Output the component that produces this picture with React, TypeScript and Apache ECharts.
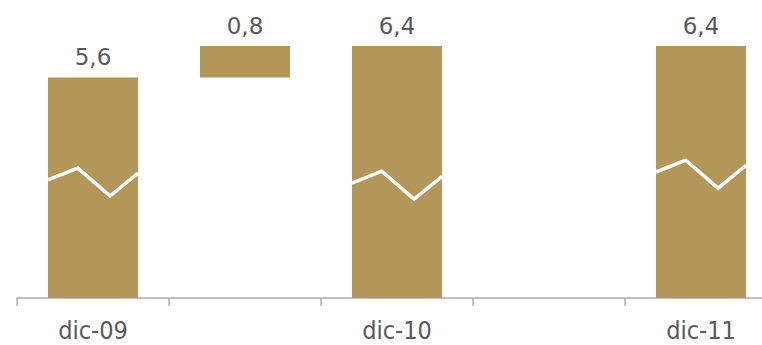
import React, { useEffect, useRef } from "react";
import * as echarts from "echarts";

// Year-end figures with the change between dic-09 and dic-10 shown as a floating step
const categories = ["dic-09", "", "dic-10", "", "dic-11"];
const baseValues = [0, 5.6, 0, 0, 0];
const barValues: (number | string)[] = [5.6, 0.8, 6.4, "-", 6.4];

// Axis-break marks drawn across the full bars: [category index, level]
const breakMarks = [
  [0, 3.0],
  [2, 2.92],
  [4, 3.2],
];

const BAR_COLOR = "#B39659";
const TEXT_COLOR = "#595959";
const BAR_W = 90;

export default function App() {
  const ref = useRef<HTMLDivElement>(null);

  useEffect(() => {
    if (!ref.current) return;
    const chart = echarts.init(ref.current, undefined, { renderer: "svg" });

    // zigzag shape: x fractions across the bar and value offsets from the level
    const zigX = [0, 0.33, 0.69, 1];
    const zigY = [0, 0.3, -0.41, 0.17];

    chart.setOption({
      animation: false,
      grid: { left: 17, right: -15, top: 46, bottom: 47, containLabel: false, outerBoundsMode: "none" },
      xAxis: {
        type: "category",
        data: categories,
        axisLine: { lineStyle: { color: "#ADADAD", width: 1.5 } },
        axisTick: { show: true, interval: 0, length: 8, lineStyle: { color: "#ADADAD", width: 1.5 } },
        axisLabel: {
          interval: 0,
          color: TEXT_COLOR,
          fontFamily: "DejaVu Sans Condensed",
          fontSize: 25,
          margin: 20,
        },
      },
      yAxis: { type: "value", min: 0, max: 6.4, show: false, splitLine: { show: false } },
      series: [
        {
          type: "bar",
          stack: "total",
          data: baseValues,
          barWidth: BAR_W,
          itemStyle: { color: "transparent" },
          silent: true,
        },
        {
          type: "bar",
          stack: "total",
          data: barValues,
          barWidth: BAR_W,
          itemStyle: { color: BAR_COLOR },
          label: {
            show: true,
            position: "top",
            distance: 9,
            color: TEXT_COLOR,
            fontFamily: "DejaVu Sans",
            fontSize: 23,
            formatter: (p: any) => String(p.value).replace(".", ","),
          },
        },
        {
          type: "custom",
          data: breakMarks,
          encode: { x: 0, y: 1 },
          z: 10,
          renderItem: (params: any, api: any) => {
            const idx = api.value(0);
            const level = api.value(1);
            const center = api.coord([idx, level]);
            const left = center[0] - BAR_W / 2;
            const points = zigX.map((fx, i) => {
              const p = api.coord([idx, level + zigY[i]]);
              return [left + fx * BAR_W, p[1]];
            });
            return {
              type: "polyline",
              shape: { points },
              style: { stroke: "#FFFFFF", lineWidth: 3.5, fill: null },
            };
          },
        },
      ],
    });

    return () => chart.dispose();
  }, []);

  return (
    <div
      ref={ref}
      style={{ position: "fixed", left: 0, top: 0, width: 762, height: 345, background: "#fff" }}
    />
  );
}
